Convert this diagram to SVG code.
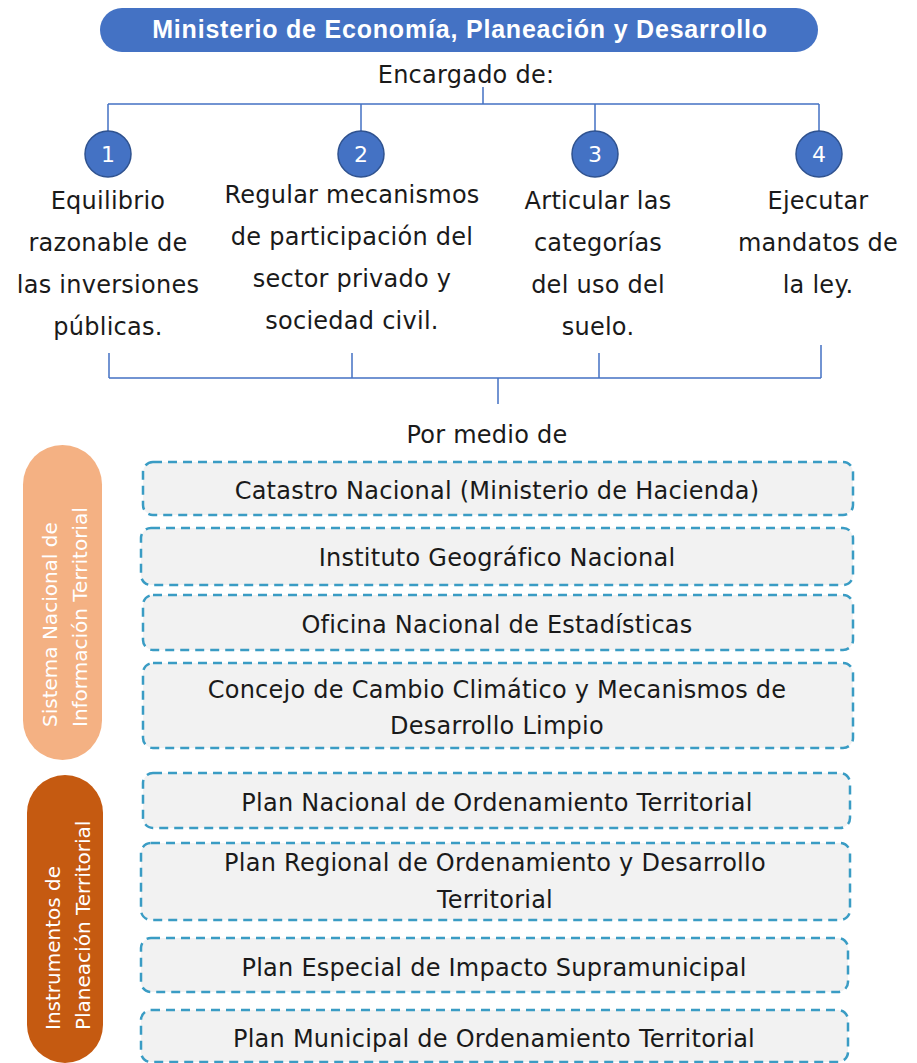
<svg xmlns="http://www.w3.org/2000/svg" width="917" height="1063" viewBox="0 0 917 1063">
<style>
.t{font-family:"DejaVu Sans","Liberation Sans",sans-serif;font-size:24px;letter-spacing:0.25px;fill:#1a1a1a;text-anchor:middle}
.hd{font-family:"Liberation Sans",Arial,sans-serif;font-size:25px;letter-spacing:0.8px;font-weight:bold;fill:#ffffff;text-anchor:middle}
.num{font-family:"DejaVu Sans","Liberation Sans",sans-serif;font-size:22px;fill:#ffffff;text-anchor:middle}
.ln{stroke:#4472C4;stroke-width:1.5;fill:none}
.circ{fill:#4472C4;stroke:#2F528F;stroke-width:1.5}
.box{fill:#F2F2F2;stroke:#3A9CC4;stroke-width:2.5;stroke-dasharray:9 6}
.vt{font-family:"DejaVu Sans","Liberation Sans",sans-serif;font-size:20px;fill:#ffffff}
</style>
<rect width="917" height="1063" fill="#ffffff"/>
<g id="header">
<rect x="100" y="8" width="718" height="44" rx="22" fill="#4472C4"/>
<text class="hd" x="460" y="38">Ministerio de Economía, Planeación y Desarrollo</text>
</g>
<g id="label-encargado"><text class="t" x="466" y="83">Encargado de:</text></g>
<g id="connectors">
<path class="ln" d="M483 87 V104 M108 104 H819 M108 104 V131 M361 104 V131 M595 104 V131 M819 104 V131"/>
<path class="ln" d="M109 353 V378 M352 353 V378 M599 353 V378 M821 345 V378 M109 378 H821 M498 378 V404"/>
</g>
<g id="item1">
<circle class="circ" cx="108" cy="154" r="23"/>
<text class="num" x="108" y="162">1</text>
<text class="t" x="108" y="209">Equilibrio</text>
<text class="t" x="108" y="251">razonable de</text>
<text class="t" x="108" y="293">las inversiones</text>
<text class="t" x="108" y="335">públicas.</text>
</g>
<g id="item2">
<circle class="circ" cx="361" cy="154" r="23"/>
<text class="num" x="361" y="162">2</text>
<text class="t" x="352" y="203">Regular mecanismos</text>
<text class="t" x="352" y="245">de participación del</text>
<text class="t" x="352" y="287">sector privado y</text>
<text class="t" x="352" y="329">sociedad civil.</text>
</g>
<g id="item3">
<circle class="circ" cx="595" cy="154" r="23"/>
<text class="num" x="595" y="162">3</text>
<text class="t" x="598" y="209">Articular las</text>
<text class="t" x="598" y="251">categorías</text>
<text class="t" x="598" y="293">del uso del</text>
<text class="t" x="598" y="335">suelo.</text>
</g>
<g id="item4">
<circle class="circ" cx="819" cy="154" r="23"/>
<text class="num" x="819" y="162">4</text>
<text class="t" x="818" y="209">Ejecutar</text>
<text class="t" x="818" y="251">mandatos de</text>
<text class="t" x="818" y="293">la ley.</text>
</g>
<g id="label-por-medio"><text class="t" x="487" y="443">Por medio de</text></g>
<g id="group-sistema">
<rect x="23" y="445" width="79" height="315" rx="39.5" fill="#F4B183"/>
<text class="vt" transform="translate(57,727) rotate(-90)">Sistema Nacional de</text>
<text class="vt" transform="translate(87,727) rotate(-90)">Información Territorial</text>
</g>
<g id="group-instrumentos">
<rect x="27" y="775" width="76" height="288" rx="38" fill="#C55A11"/>
<text class="vt" transform="translate(60,1030) rotate(-90)">Instrumentos de</text>
<text class="vt" transform="translate(90,1030) rotate(-90)">Planeación Territorial</text>
</g>
<g id="box1"><rect class="box" x="143" y="462" width="710" height="53" rx="10"/><text class="t" x="497" y="499">Catastro Nacional (Ministerio de Hacienda)</text></g>
<g id="box2"><rect class="box" x="141" y="528" width="712" height="57" rx="10"/><text class="t" x="497" y="566">Instituto Geográfico Nacional</text></g>
<g id="box3"><rect class="box" x="143" y="595" width="710" height="55" rx="10"/><text class="t" x="497" y="633">Oficina Nacional de Estadísticas</text></g>
<g id="box4"><rect class="box" x="143" y="663" width="710" height="85" rx="10"/><text class="t" x="497" y="698">Concejo de Cambio Climático y Mecanismos de</text><text class="t" x="497" y="734">Desarrollo Limpio</text></g>
<g id="box5"><rect class="box" x="143" y="773" width="707" height="55" rx="10"/><text class="t" x="497" y="811">Plan Nacional de Ordenamiento Territorial</text></g>
<g id="box6"><rect class="box" x="141" y="843" width="709" height="77" rx="10"/><text class="t" x="495" y="871">Plan Regional de Ordenamiento y Desarrollo</text><text class="t" x="495" y="908">Territorial</text></g>
<g id="box7"><rect class="box" x="141" y="938" width="707" height="54" rx="10"/><text class="t" x="494" y="976">Plan Especial de Impacto Supramunicipal</text></g>
<g id="box8"><rect class="box" x="141" y="1010" width="707" height="52" rx="10"/><text class="t" x="494" y="1047">Plan Municipal de Ordenamiento Territorial</text></g>
</svg>
